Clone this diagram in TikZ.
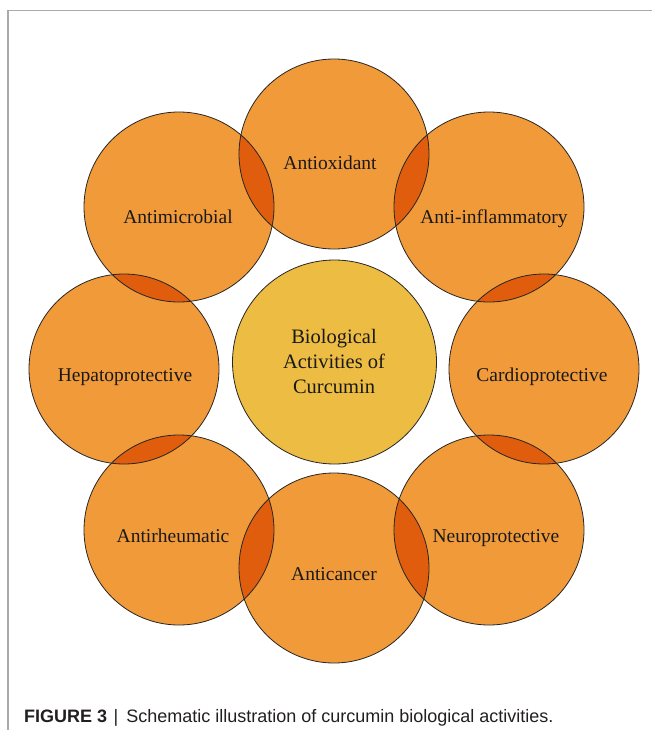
\documentclass[tikz,border=0pt]{standalone}
\usepackage{fontspec}
\setmainfont{Liberation Serif}
\newfontfamily\capfont{Liberation Sans}
\definecolor{petalorange}{RGB}{241,154,57}
\definecolor{lensorange}{RGB}{224,93,14}
\definecolor{corecolor}{RGB}{237,188,66}
\definecolor{framegray}{RGB}{170,170,170}
\definecolor{capcolor}{RGB}{35,31,32}
\begin{document}
\begin{tikzpicture}[x=1bp,y=-1bp,
  petal/.style={circle, minimum size=190bp, inner sep=0pt, fill=petalorange},
  rim/.style={draw=black!85, line width=0.8bp},
  lbl/.style={anchor=base, inner sep=0pt, font=\fontsize{19.5bp}{23bp}\selectfont, text=black!90},
  corelbl/.style={inner sep=0pt, align=center, font=\fontsize{20.5bp}{25bp}\selectfont, text=black!90},
  capstyle/.style={anchor=base west, inner sep=0pt, font=\capfont\fontsize{18bp}{21bp}\selectfont, text=capcolor}]
\useasboundingbox (0,0) rectangle (652,730);
\draw[framegray, line width=1.3bp] (8,730) -- (8,10.5) -- (652,10.5);
% petals
\node[petal] (ox) at (334,154) {};
\node[petal] (mi) at (179,207) {};
\node[petal] (in) at (489,207) {};
\node[petal] (he) at (124,369) {};
\node[petal] (ca) at (544,369) {};
\node[petal] (rh) at (179,530) {};
\node[petal] (ne) at (489,530) {};
\node[petal] (cc) at (334,568) {};
% lenses
\foreach \a/\b in {ox/in, in/ca, ca/ne, ne/cc, cc/rh, rh/he, he/mi, mi/ox}{
  \begin{scope}
    \clip (\a.center) circle[radius=95bp];
    \fill[lensorange] (\b.center) circle[radius=95bp];
  \end{scope}
}
% outlines
\foreach \a in {ox,mi,in,he,ca,rh,ne,cc}{
  \draw[rim] (\a.center) circle[radius=95bp];
}
% core
\node[circle, minimum size=204bp, inner sep=0pt, fill=corecolor, rim] (core) at (334.5,362) {};
\node[corelbl] (corel) at (334,361) {Biological\\Activities of\\Curcumin};
% labels
\node[lbl] (tox) at (330,169) {Antioxidant};
\node[lbl] (tmi) at (178,223) {Antimicrobial};
\node[lbl] (tin) at (494,223) {Anti-inflammatory};
\node[lbl] (the) at (125,381) {Hepatoprotective};
\node[lbl] (tca) at (542,381) {Cardioprotective};
\node[lbl] (trh) at (173,542) {Antirheumatic};
\node[lbl] (tne) at (496,542) {Neuroprotective};
\node[lbl] (tcc) at (334,580) {Anticancer};
% caption
\node[capstyle] (cap) at (24,722.7) {\textbf{FIGURE 3}\hspace{0.35em}|\hspace{0.45em}Schematic illustration of curcumin biological activities.};
\end{tikzpicture}
\end{document}
